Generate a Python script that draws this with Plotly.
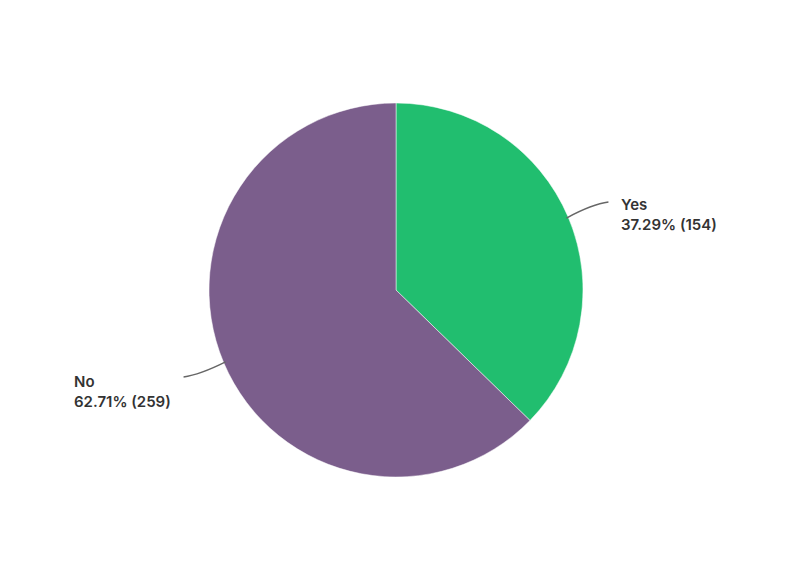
import math
import plotly.graph_objects as go

labels = ["Yes", "No"]
counts = [154, 259]
percents = [37.29, 62.71]
colors = ["#21BE6F", "#7B5E8C"]

W, H = 800, 566
OFF = 8  # page body margin
cx, cy, r = 396, 290, 187

def px(x, y):
    return (x - OFF) / W, (H - (y - OFF)) / H

dx0, dy0 = px(cx - r, cy + r)
dx1, dy1 = px(cx + r, cy - r)

fig = go.Figure(go.Pie(
    labels=labels, values=counts, sort=False, direction="clockwise", rotation=0,
    marker=dict(colors=colors, line=dict(color="white", width=0.5)),
    textinfo="none", hoverinfo="label+percent+value", showlegend=False,
    domain=dict(x=[dx0, dx1], y=[dy0, dy1]),
))

total = sum(counts)
cum = 0
shapes, annotations = [], []
for lab, c, p in zip(labels, counts, percents):
    mid = (cum + c / 2) / total * 2 * math.pi
    cum += c
    sx = cx + (r - 2) * math.sin(mid)
    sy = cy - (r - 2) * math.cos(mid)
    side = 1 if math.sin(mid) > 0 else -1
    ex = sx + side * 42
    ey = sy + (-16 if side > 0 else 15)
    qx = sx + side * 26
    qy = ey + (2 if side > 0 else -2)
    x0, y0 = px(sx, sy); x1, y1 = px(qx, qy); x2, y2 = px(ex, ey)
    shapes.append(dict(type="path", xref="paper", yref="paper",
                       path=f"M {x0},{y0} Q {x1},{y1} {x2},{y2}",
                       line=dict(color="#666666", width=1.4)))
    tx = ex + 11 if side > 0 else ex - 112
    ty = ey + 12.5 if side > 0 else ey + 15
    ax, ay = px(tx, ty)
    annotations.append(dict(x=ax, y=ay, xref="paper", yref="paper", showarrow=False,
                            xanchor="left", yanchor="middle", align="left",
                            text=f"{lab}<br>{p:.2f}% ({c})",
                            font=dict(family="Inter, Roboto, sans-serif", size=15,
                                      color="#333333", weight=600)))

fig.update_layout(width=W, height=H, margin=dict(l=0, r=0, t=0, b=0),
                  paper_bgcolor="white", plot_bgcolor="white",
                  shapes=shapes, annotations=annotations)
fig.write_html("out.html")
